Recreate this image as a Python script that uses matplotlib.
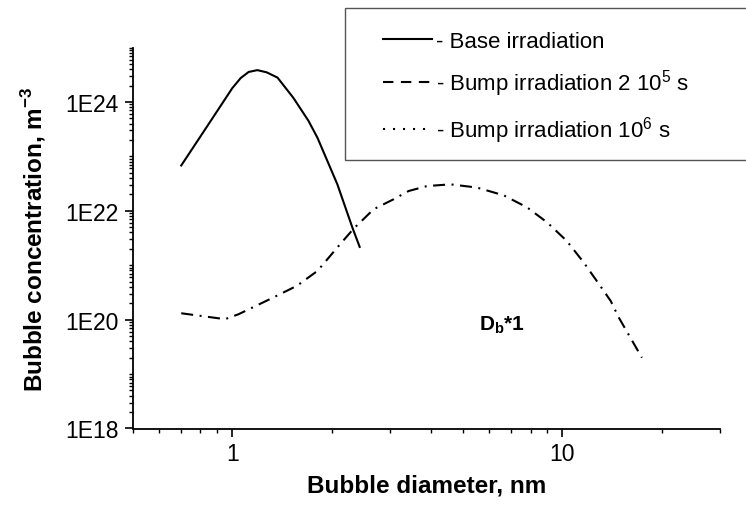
import matplotlib.pyplot as plt
from matplotlib.lines import Line2D
from matplotlib.patches import Rectangle
from matplotlib.ticker import FixedLocator, LogLocator, NullFormatter

plt.rcParams['font.family'] = ['Liberation Sans', 'DejaVu Sans']
plt.rcParams['mathtext.fontset'] = 'custom'
plt.rcParams['mathtext.rm'] = 'Liberation Sans'
plt.rcParams['mathtext.bf'] = 'Liberation Sans:bold'

# base irradiation (solid line)
base_d = [0.70, 0.82, 1.00, 1.06, 1.12, 1.19, 1.27, 1.37, 1.53, 1.70, 1.81, 2.08, 2.31, 2.43]
base_conc = [6.8e22, 2.9e23, 1.8e24, 2.75e24, 3.55e24, 3.84e24, 3.5e24, 2.8e24,
             1.19e24, 4.5e23, 2.2e23, 3.06e22, 4.9e21, 2.17e21]

# bump irradiation 2 10^5 s (dashed)
bump_d = [0.70, 0.95, 1.045, 1.33, 1.57, 1.81, 2.12, 2.33, 2.68, 3.08, 3.42, 3.89,
          4.58, 5.51, 6.64, 7.82, 8.99, 10.3, 11.6, 13.0, 14.0, 14.8, 17.4]
bump_conc = [1.31e20, 1.02e20, 1.26e20, 2.55e20, 4.2e20, 7.85e20, 2.43e21, 4.7e21,
             1.07e22, 1.63e22, 2.31e22, 2.85e22, 3.06e22, 2.67e22, 1.92e22, 1.15e22,
             6.1e21, 2.8e21, 1.12e21, 4.2e20, 2.2e20, 1.1e20, 2.0e19]

# bump irradiation 10^6 s (dotted) - lies on top of the 2 10^5 s curve
bump6_d = bump_d
bump6_conc = bump_conc

labels = ['- Base irradiation', '- Bump irradiation 2 10$^5$ s', '- Bump irradiation 10$^6$ s']
ytick_vals = [1e18, 1e20, 1e22, 1e24]
ytick_labels = ['1E18', '1E20', '1E22', '1E24']
xtick_vals = [1, 10]
xtick_labels = ['1', '10']

fig = plt.figure(figsize=(7.46, 5.06), dpi=100)
ax = fig.add_axes([133/746, 1 - 429.5/506, (720 - 133)/746, (429.5 - 48.5)/506])

lw = 1.5
ax.plot(base_d, base_conc, color='black', lw=lw)
ax.plot(bump_d, bump_conc, color='black', lw=lw, linestyle=(0, (5.76, 7.2)))
ax.plot(bump6_d, bump6_conc, color='black', lw=lw, linestyle=(4.08, (0.96, 12.0)))

ax.set_xscale('log')
ax.set_yscale('log')
ax.set_xlim(0.5, 30)
ax.set_ylim(1e18, 1e25)

ax.xaxis.set_major_locator(FixedLocator(xtick_vals))
ax.set_xticklabels(xtick_labels)
ax.xaxis.set_minor_locator(LogLocator(base=10, subs=range(2, 10), numticks=20))
ax.xaxis.set_minor_formatter(NullFormatter())
ax.yaxis.set_major_locator(FixedLocator(ytick_vals))
ax.set_yticklabels(ytick_labels)
ax.yaxis.set_minor_locator(LogLocator(base=10, subs=range(1, 10), numticks=30))
ax.yaxis.set_minor_formatter(NullFormatter())

for s in ['top', 'right']:
    ax.spines[s].set_visible(False)
for s in ['left', 'bottom']:
    ax.spines[s].set_linewidth(1.3)
ax.tick_params(which='major', direction='out', length=5.5, width=1.2, labelsize=16.5)
ax.tick_params(axis='y', which='major', pad=5)
ax.tick_params(axis='x', which='major', pad=4)
ax.tick_params(which='minor', direction='out', length=3, width=1.0)

ax.set_xlabel('Bubble diameter, nm', fontsize=17.5, fontweight='bold', labelpad=6)
ax.set_ylabel('Bubble concentration, m$^{\\mathbf{-3}}$', fontsize=17.5, fontweight='bold', labelpad=12)

ax.text(5.6, 8.3e19, 'D$_\\mathbf{b}$*1', fontsize=15, fontweight='bold', ha='left', va='center')

# legend: frameless, with a separate box that runs off the right edge
handles = [Line2D([], [], color='black', lw=lw),
           Line2D([], [], color='black', lw=lw, linestyle=(0, (5.0, 3.6))),
           Line2D([], [], color='black', lw=lw, linestyle=(0, (1.0, 3.8)))]
fig.legend(handles, labels, loc='upper left', bbox_to_anchor=(383/746, 1 - 32/506),
           frameon=False, fontsize=16, handlelength=2.2, handletextpad=0.2,
           labelspacing=0.7, borderpad=0, borderaxespad=0)
fig.add_artist(Rectangle((345/746, 1 - 161/506), 0.6, 152/506, transform=fig.transFigure,
                         fill=False, edgecolor='#555555', lw=1.0))

fig.savefig('out.png', dpi=100)
